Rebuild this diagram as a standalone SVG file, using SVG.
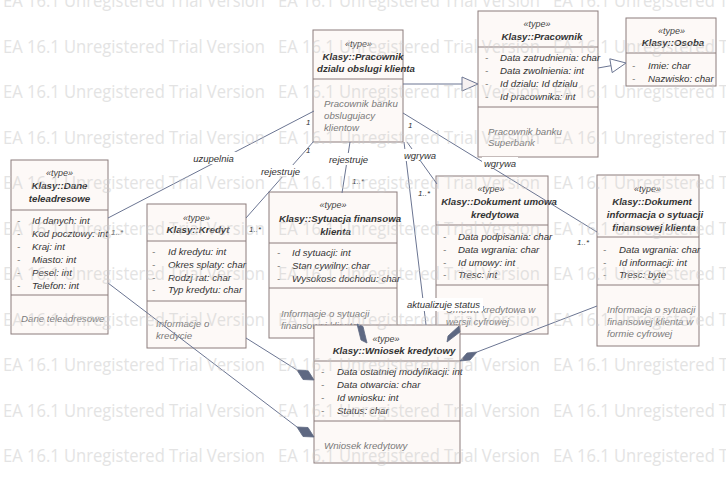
<svg xmlns="http://www.w3.org/2000/svg" xmlns:xlink="http://www.w3.org/1999/xlink" width="726" height="486" viewBox="0 0 726 486">
<style>
.box{fill:#fdf9f7;stroke:#8c7d7d;stroke-width:1}
.dv{stroke:#8c7d7d;stroke-width:1}
text{font-family:"Liberation Sans",Arial,sans-serif}
.st{font-size:9px;font-style:italic;fill:#444;text-anchor:middle}
.tt{font-size:9.7px;font-style:italic;font-weight:bold;fill:#333;text-anchor:middle}
.at{font-size:9.7px;font-style:italic;fill:#333}
.nt{font-size:9.7px;font-style:italic;fill:#7a7a7a}
.ln{stroke:#6b7592;fill:none;stroke-width:1}
.dm{fill:#5e6882;stroke:#5e6882;stroke-width:0.8}
.lb{font-size:9.5px;font-style:italic;fill:#333;text-anchor:middle}
.lbg{fill:#ffffff}
.m{font-size:8px;font-style:italic;fill:#333}
.wm{font-family:"Open Sans","Liberation Sans",sans-serif;font-size:18px;fill:#c9c9c9;opacity:0.5}
</style>
<defs>
<g id="wmrow">
<text class="wm" x="3" y="0" textLength="262" lengthAdjust="spacingAndGlyphs">EA 16.1 Unregistered Trial Version</text>
<text class="wm" x="278" y="0" textLength="262" lengthAdjust="spacingAndGlyphs">EA 16.1 Unregistered Trial Version</text>
<text class="wm" x="553" y="0" textLength="262" lengthAdjust="spacingAndGlyphs">EA 16.1 Unregistered Trial Version</text>
</g>
</defs>
<rect width="726" height="486" fill="#ffffff"/>

<g id="node-dane">
<rect class="box" x="11" y="160" width="97" height="174"/>
<line class="dv" x1="11" y1="210" x2="108" y2="210"/>
<line class="dv" x1="11" y1="295" x2="108" y2="295"/>
<text class="st" x="59.5" y="176">«type»</text>
<text class="tt" x="59.5" y="188.5">Klasy::Dane</text>
<text class="tt" x="59.5" y="201.5">teleadresowe</text>
<text class="at" x="17" y="223.5">-</text><text class="at" x="32" y="223.5">Id danych: int</text>
<text class="at" x="17" y="236.5">-</text><text class="at" x="32" y="236.5">Kod pocztowy: int</text>
<text class="at" x="17" y="249.5">-</text><text class="at" x="32" y="249.5">Kraj: int</text>
<text class="at" x="17" y="262.5">-</text><text class="at" x="32" y="262.5">Miasto: int</text>
<text class="at" x="17" y="275.5">-</text><text class="at" x="32" y="275.5">Pesel: int</text>
<text class="at" x="17" y="288.5">-</text><text class="at" x="32" y="288.5">Telefon: int</text>
<text class="nt" x="21" y="321.5">Dane teleadresowe</text>
</g>

<g id="node-kredyt">
<rect class="box" x="147" y="204" width="99" height="144"/>
<line class="dv" x1="147" y1="241" x2="246" y2="241"/>
<line class="dv" x1="147" y1="301" x2="246" y2="301"/>
<text class="st" x="196.5" y="220.5">«type»</text>
<text class="tt" x="198" y="232.5">Klasy::Kredyt</text>
<text class="at" x="152" y="254.5">-</text><text class="at" x="168" y="254.5">Id kredytu: int</text>
<text class="at" x="152" y="267.5">-</text><text class="at" x="168" y="267.5">Okres splaty: char</text>
<text class="at" x="152" y="280.5">-</text><text class="at" x="168" y="280.5">Rodzj rat: char</text>
<text class="at" x="152" y="293">-</text><text class="at" x="168" y="293">Typ kredytu: char</text>
<text class="nt" x="156" y="326.5">Informacje o</text>
<text class="nt" x="156" y="338.5">kredycie</text>
</g>

<g id="node-sytuacja">
<rect class="box" x="269" y="192" width="128" height="146"/>
<line class="dv" x1="269" y1="243" x2="397" y2="243"/>
<line class="dv" x1="269" y1="288" x2="397" y2="288"/>
<text class="st" x="333" y="207.5">«type»</text>
<text class="tt" x="340" y="221.5">Klasy::Sytuacja finansowa</text>
<text class="tt" x="335.5" y="234.5">klienta</text>
<text class="at" x="277" y="255.5">-</text><text class="at" x="292" y="255.5">Id sytuacji: int</text>
<text class="at" x="277" y="268.5">-</text><text class="at" x="292" y="268.5">Stan cywilny: char</text>
<text class="at" x="277" y="281.5">-</text><text class="at" x="292" y="281.5">Wysokosc dochodu: char</text>
<text class="nt" x="281" y="316.5">Informacje o sytuacji</text>
<text class="nt" x="281" y="328.5">finansowej klienta</text>
</g>

<g id="node-pracownik-dzialu">
<rect class="box" x="313" y="30" width="90" height="112"/>
<line class="dv" x1="313" y1="79" x2="403" y2="79"/>
<text class="st" x="358.5" y="46.5">«type»</text>
<text class="tt" x="363" y="59.5">Klasy::Pracownik</text>
<text class="tt" x="366" y="71.5">dzialu obslugi klienta</text>
<text class="nt" x="324" y="106.5">Pracownik banku</text>
<text class="nt" x="324" y="119">obslugujacy</text>
<text class="nt" x="324" y="131">klientow</text>
</g>

<g id="node-pracownik">
<rect class="box" x="478" y="11" width="120" height="146"/>
<line class="dv" x1="478" y1="47" x2="598" y2="47"/>
<line class="dv" x1="478" y1="107" x2="598" y2="107"/>
<text class="st" x="537" y="26.5">«type»</text>
<text class="tt" x="542" y="39.5">Klasy::Pracownik</text>
<text class="at" x="485" y="60.5">-</text><text class="at" x="500" y="60.5">Data zatrudnienia: char</text>
<text class="at" x="485" y="73.5">-</text><text class="at" x="500" y="73.5">Data zwolnienia: int</text>
<text class="at" x="485" y="86.5">-</text><text class="at" x="500" y="86.5">Id dzialu: Id dzialu</text>
<text class="at" x="485" y="99.5">-</text><text class="at" x="500" y="99.5">Id pracownika: int</text>
<text class="nt" x="488" y="134.5">Pracownik banku</text>
<text class="nt" x="488" y="146">Superbank</text>
</g>

<g id="node-osoba">
<rect class="box" x="626" y="18" width="90" height="68"/>
<line class="dv" x1="626" y1="53" x2="716" y2="53"/>
<text class="st" x="671.5" y="33.5">«type»</text>
<text class="tt" x="673" y="45.5">Klasy::Osoba</text>
<text class="at" x="632" y="68.5">-</text><text class="at" x="648" y="68.5">Imie: char</text>
<text class="at" x="632" y="81.5">-</text><text class="at" x="648" y="81.5">Nazwisko: char</text>
</g>

<g id="node-dokument-umowa">
<rect class="box" x="436" y="176" width="112" height="158"/>
<line class="dv" x1="436" y1="225" x2="548" y2="225"/>
<line class="dv" x1="436" y1="285" x2="548" y2="285"/>
<text class="st" x="491" y="191.5">«type»</text>
<text class="tt" x="499" y="204.5">Klasy::Dokument umowa</text>
<text class="tt" x="495" y="217.5">kredytowa</text>
<text class="at" x="443" y="239.5">-</text><text class="at" x="458" y="239.5">Data podpisania: char</text>
<text class="at" x="443" y="252.5">-</text><text class="at" x="458" y="252.5">Data wgrania: char</text>
<text class="at" x="443" y="265.5">-</text><text class="at" x="458" y="265.5">Id umowy: int</text>
<text class="at" x="443" y="278">-</text><text class="at" x="458" y="278">Tresc: int</text>
<text class="nt" x="446" y="312.5">Umowa kredytowa w</text>
<text class="nt" x="446" y="324.5">wersji cyfrowej</text>
</g>

<g id="node-dokument-informacja">
<rect class="box" x="597" y="175" width="102" height="171"/>
<line class="dv" x1="597" y1="237" x2="699" y2="237"/>
<line class="dv" x1="597" y1="285" x2="699" y2="285"/>
<text class="st" x="647.5" y="191.5">«type»</text>
<text class="tt" x="652" y="204.5">Klasy::Dokument</text>
<text class="tt" x="655" y="217.5">informacja o sytuacji</text>
<text class="tt" x="654" y="230.5">finansowej klienta</text>
<text class="at" x="603" y="252.5">-</text><text class="at" x="619" y="252.5">Data wgrania: char</text>
<text class="at" x="603" y="265.5">-</text><text class="at" x="619" y="265.5">Id informacji: int</text>
<text class="at" x="603" y="277.5">-</text><text class="at" x="619" y="277.5">Tresc: byte</text>
<text class="nt" x="607" y="312.5">Informacja o sytuacji</text>
<text class="nt" x="607" y="324.5">finansowej klienta w</text>
<text class="nt" x="607" y="336.5">formie cyfrowej</text>
</g>

<g id="node-wniosek">
<rect class="box" x="314" y="325" width="146" height="138"/>
<line class="dv" x1="314" y1="361" x2="460" y2="361"/>
<line class="dv" x1="314" y1="421" x2="460" y2="421"/>
<text class="st" x="386" y="341.5">«type»</text>
<text class="tt" x="394" y="353.5">Klasy::Wniosek kredytowy</text>
<text class="at" x="321" y="374.5">-</text><text class="at" x="337" y="374.5">Data ostatniej modyfikacji: int</text>
<text class="at" x="321" y="387.5">-</text><text class="at" x="337" y="387.5">Data otwarcia: char</text>
<text class="at" x="321" y="400.5">-</text><text class="at" x="337" y="400.5">Id wniosku: int</text>
<text class="at" x="321" y="413.5">-</text><text class="at" x="337" y="413.5">Status: char</text>
<text class="nt" x="324" y="448.5">Wniosek kredytowy</text>
</g>

<g id="connectors">
<!-- generalizations -->
<line class="ln" x1="403" y1="84" x2="462" y2="84"/>
<polygon points="462,77 462,91 478,84" fill="#f6f1f1" stroke="#6b7592" stroke-width="1"/>
<line class="ln" x1="598" y1="68" x2="611" y2="65.7"/>
<polygon points="609.8,58.8 612.2,72.6 626,63" fill="#ffffff" stroke="#6b7592" stroke-width="1"/>
<!-- associations to Pracownik dzialu -->
<line class="ln" x1="108" y1="218" x2="314" y2="111"/>
<line class="ln" x1="246" y1="218" x2="314" y2="141"/>
<line class="ln" x1="342" y1="193" x2="350" y2="142"/>
<line class="ln" x1="407" y1="142" x2="437" y2="184"/>
<line class="ln" x1="404" y1="142" x2="426" y2="325"/>
<line class="ln" x1="403" y1="113" x2="597" y2="232"/>
<!-- compositions to Wniosek -->
<line class="ln" x1="246" y1="338" x2="297" y2="370"/>
<polygon class="dm" points="297,370 308,370.5 314,380 303,379.5"/>
<line class="ln" x1="108" y1="283" x2="297" y2="427"/>
<polygon class="dm" points="297,427 308,427.5 314,437 303,436.5"/>
<line class="ln" x1="597" y1="306" x2="477" y2="352"/>
<polygon class="dm" points="477,352 470,360 460,361 467,353"/>
<polygon class="dm" points="357,324 363,326.5 367,343 361,340"/>
<polygon class="dm" points="459,326 460,332 447,342 448,336"/>
<!-- labels -->
<rect class="lbg" x="191" y="152" width="45" height="12"/>
<text class="lb" x="213.5" y="161.5">uzupelnia</text>
<rect class="lbg" x="259" y="165" width="43" height="12"/>
<text class="lb" x="280.5" y="174.5">rejestruje</text>
<rect class="lbg" x="327" y="153" width="43" height="12"/>
<text class="lb" x="348.5" y="162.5">rejestruje</text>
<rect class="lbg" x="402" y="149" width="36" height="12"/>
<text class="lb" x="420" y="158.5">wgrywa</text>
<rect class="lbg" x="482" y="157" width="36" height="12"/>
<text class="lb" x="500" y="166.5">wgrywa</text>
<rect class="lbg" x="404" y="298" width="79" height="13"/>
<text class="lb" x="443.5" y="308">aktualizuje status</text>
<!-- multiplicities -->
<text class="m" x="306" y="125">1</text>
<text class="m" x="306" y="153">1</text>
<text class="m" x="408" y="128">1</text>
<text class="m" x="111" y="235">1..*</text>
<text class="m" x="249" y="232">1..*</text>
<text class="m" x="352" y="184">1..*</text>
<text class="m" x="418" y="196">1..*</text>
<text class="m" x="577" y="245">1..*</text>
</g>

<g id="watermark">
<use xlink:href="#wmrow" y="7.2"/>
<use xlink:href="#wmrow" y="52.7"/>
<use xlink:href="#wmrow" y="98.2"/>
<use xlink:href="#wmrow" y="143.7"/>
<use xlink:href="#wmrow" y="189.2"/>
<use xlink:href="#wmrow" y="234.7"/>
<use xlink:href="#wmrow" y="280.2"/>
<use xlink:href="#wmrow" y="325.7"/>
<use xlink:href="#wmrow" y="371.2"/>
<use xlink:href="#wmrow" y="416.7"/>
<use xlink:href="#wmrow" y="462.2"/>
</g>
</svg>
